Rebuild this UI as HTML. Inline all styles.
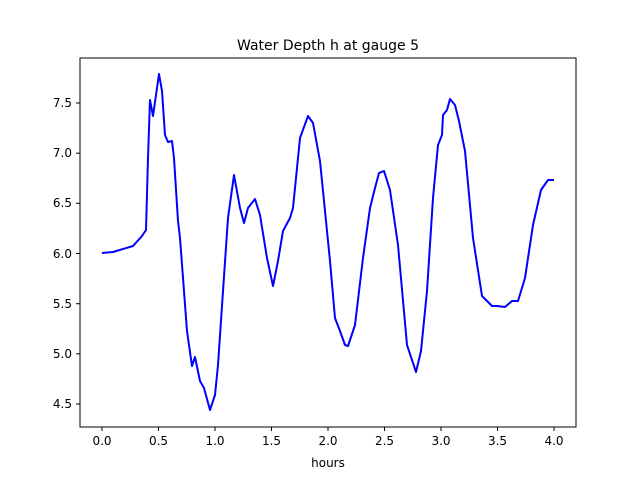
<!DOCTYPE html>
<html><head><style>body{margin:0;background:#fff}svg{display:block}text{font-family:"DejaVu Sans","Liberation Sans",sans-serif;fill:#000}</style></head>
<body><svg width="640" height="480" viewBox="0 0 640 480">
<text x="328" y="50" font-size="14" text-anchor="middle">Water Depth h at gauge 5</text>
<polyline fill="none" stroke="#0000ff" stroke-width="2" stroke-linejoin="round" points="102,253 113,252 133,246 142,236 146,230 148,158 150,100 153,116 156,95 159,74 162,91 165,135 168,142 172,141 174,158 178,221 180,238 187,331 192,366 195,357 200,381 204,388 210,410 215,395 218,365 223,291 228,218 234,175 240,208 244,223 248,208 255,199 260,215 267,258 273,286 278,261 283,231 290,218 293,208 300,138 308,116 313,123 320,161 330,261 335,318 340,331 345,345 348,346 355,325 363,258 370,208 375,188 379,173 384,171 390,190 398,245 407,345 412,360 416,372 421,351 427,291 433,198 438,145 442,135 443,115 447,110 450,99 455,105 459,121 465,151 473,238 482,296 487,301 492,306 497,306 505,307 512,301 518,301 525,278 533,225 541,190 548,180 554,180"/>
<rect x="80" y="58" width="496" height="369" fill="none" stroke="#000" stroke-width="1"/>
<g stroke="#000" stroke-width="1">
<line x1="102" y1="427" x2="102" y2="431"/><line x1="158.5" y1="427" x2="158.5" y2="431"/><line x1="215" y1="427" x2="215" y2="431"/><line x1="271.5" y1="427" x2="271.5" y2="431"/><line x1="328" y1="427" x2="328" y2="431"/><line x1="384.5" y1="427" x2="384.5" y2="431"/><line x1="441" y1="427" x2="441" y2="431"/><line x1="497.5" y1="427" x2="497.5" y2="431"/><line x1="554" y1="427" x2="554" y2="431"/>
<line x1="76" y1="103" x2="80" y2="103"/><line x1="76" y1="153.2" x2="80" y2="153.2"/><line x1="76" y1="203.3" x2="80" y2="203.3"/><line x1="76" y1="253.5" x2="80" y2="253.5"/><line x1="76" y1="303.7" x2="80" y2="303.7"/><line x1="76" y1="353.8" x2="80" y2="353.8"/><line x1="76" y1="404" x2="80" y2="404"/>
</g>
<g font-size="12" text-anchor="middle">
<text x="102" y="445">0.0</text><text x="158.5" y="445">0.5</text><text x="215" y="445">1.0</text><text x="271.5" y="445">1.5</text><text x="328" y="445">2.0</text><text x="384.5" y="445">2.5</text><text x="441" y="445">3.0</text><text x="497.5" y="445">3.5</text><text x="554" y="445">4.0</text>
<text x="328" y="467">hours</text>
</g>
<g font-size="12" text-anchor="end">
<text x="72" y="107">7.5</text><text x="72" y="157">7.0</text><text x="72" y="207">6.5</text><text x="72" y="258">6.0</text><text x="72" y="308">5.5</text><text x="72" y="358">5.0</text><text x="72" y="408">4.5</text>
</g>
</svg></body></html>
